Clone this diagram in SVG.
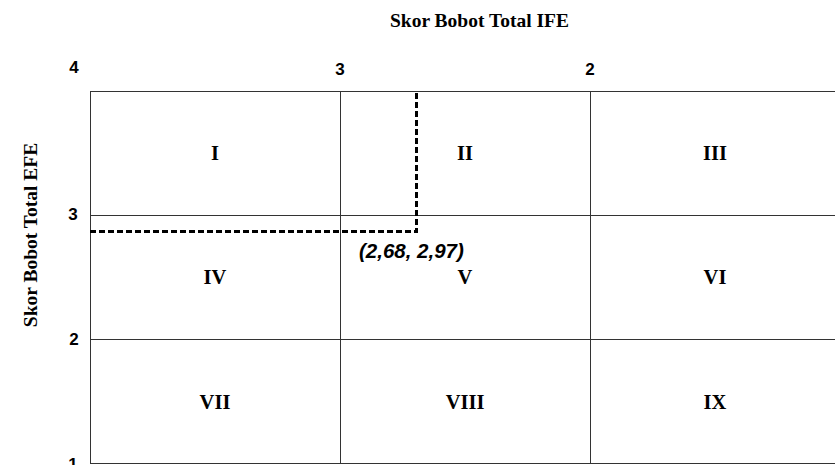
<svg xmlns="http://www.w3.org/2000/svg" width="835" height="465" viewBox="0 0 835 465">
<style>
.title{font-family:"Liberation Serif","Times New Roman",serif;font-weight:bold;font-size:19.5px;fill:#000}
.ytitle{font-family:"Liberation Serif","Times New Roman",serif;font-weight:bold;font-size:19.5px;fill:#000;text-anchor:middle}
.num{font-family:"Liberation Sans",Arial,sans-serif;font-weight:bold;font-size:17px;fill:#000;text-anchor:middle}
.cell{font-family:"Liberation Serif","Times New Roman",serif;font-weight:bold;font-size:20.5px;fill:#000;text-anchor:middle}
.grid{stroke:#333;stroke-width:1;fill:none}
.dash{stroke:#000;stroke-width:3;stroke-dasharray:6 3;fill:none}
.pt{font-family:"Liberation Sans",Arial,sans-serif;font-weight:bold;font-style:italic;font-size:20.5px;fill:#000}
</style>
<rect width="835" height="465" fill="#fff"/>
<g id="axis-titles">
<text class="title" x="390" y="27">Skor Bobot Total IFE</text>
<text class="ytitle" transform="translate(37,235) rotate(-90)">Skor Bobot Total EFE</text>
</g>
<g id="axis-numbers">
<text class="num" x="74" y="73">4</text>
<text class="num" x="340" y="75">3</text>
<text class="num" x="590" y="75">2</text>
<text class="num" x="839.5" y="75">1</text>
<text class="num" x="73" y="220">3</text>
<text class="num" x="74" y="345">2</text>
<text class="num" x="73" y="470">1</text>
</g>
<g id="grid">
<rect class="grid" x="90.5" y="91.5" width="760" height="372"/>
<line class="grid" x1="340.5" y1="91" x2="340.5" y2="463"/>
<line class="grid" x1="590.5" y1="91" x2="590.5" y2="463"/>
<line class="grid" x1="90" y1="215.5" x2="835" y2="215.5"/>
<line class="grid" x1="90" y1="339.5" x2="835" y2="339.5"/>
</g>
<g id="cells">
<g id="cell-I"><text class="cell" x="215" y="160">I</text></g>
<g id="cell-II"><text class="cell" x="465" y="160">II</text></g>
<g id="cell-III"><text class="cell" x="715" y="160">III</text></g>
<g id="cell-IV"><text class="cell" x="215" y="284">IV</text></g>
<g id="cell-V"><text class="cell" x="465" y="284">V</text></g>
<g id="cell-VI"><text class="cell" x="715" y="284">VI</text></g>
<g id="cell-VII"><text class="cell" x="215" y="409">VII</text></g>
<g id="cell-VIII"><text class="cell" x="465" y="409">VIII</text></g>
<g id="cell-IX"><text class="cell" x="715" y="409">IX</text></g>
</g>
<g id="connectors">
<polyline class="dash" points="90,231.5 416.5,231.5 416.5,91"/>
</g>
<g id="point-label">
<text class="pt" x="359" y="258">(2,68, 2,97)</text>
</g>
</svg>
